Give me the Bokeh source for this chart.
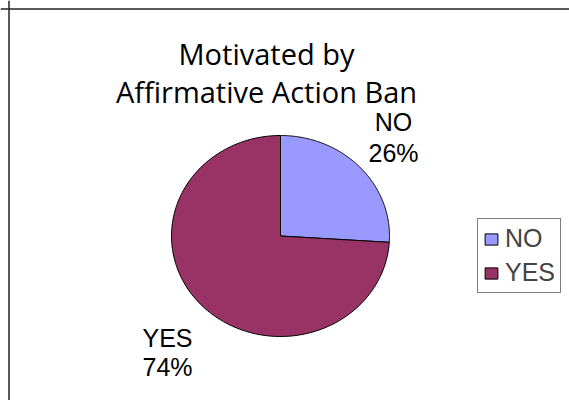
import numpy as np
from bokeh.plotting import figure
from bokeh.models import ColumnDataSource, Legend, LegendItem, Span, Range1d
from bokeh.core.properties import value
from bokeh.embed import file_html
from bokeh.resources import INLINE

# ---- data ----
categories = ["NO", "YES"]
percents = [26, 74]
colors = ["#9999FF", "#993366"]
title_lines = ["Motivated by", "Affirmative Action Ban"]

W, H = 569, 400
p = figure(width=W, height=H, output_backend="svg", toolbar_location=None,
           x_range=Range1d(0, W), y_range=Range1d(0, H), min_border=0)
p.axis.visible = False
p.grid.visible = False
p.outline_line_color = None
p.background_fill_color = "white"
p.border_fill_color = "white"

# frame lines (left & top edges of the chart box, rest clipped)
p.add_layout(Span(location=8.5, dimension="height", line_color="#222222", line_width=1.5))
p.add_layout(Span(location=H - 8.5, dimension="width", line_color="#222222", line_width=1.5))

# pie (slightly elliptical, as in the reference)
cx, cy, rx, ry = 280, 164.5, 109, 100.5
fr = np.array(percents, dtype=float) / sum(percents)
ends = np.cumsum(fr) * 2 * np.pi
starts = ends - fr * 2 * np.pi
xs, ys = [], []
for a0, a1 in zip(starts, ends):
    t = np.linspace(a0, a1, 200)
    xs.append([cx] + list(cx + rx * np.sin(t)) + [cx])
    ys.append([cy] + list(cy + ry * np.cos(t)) + [cy])
src = ColumnDataSource(dict(xs=xs, ys=ys, color=colors, cat=categories))
r = p.patches("xs", "ys", source=src, fill_color="color", line_color="black", line_width=1)

# title
p.text(x=[266, 266], y=[347.5, 309.5], text=title_lines,
       text_font=value("Open Sans"), text_font_size="29px", text_color="black",
       text_align="center", text_baseline="alphabetic")

# data labels
lab_x = [393, 167]
lab_y = [(278.3, 248), (63, 33.3)]
for c, pc, lx, (y1, y2) in zip(categories, percents, lab_x, lab_y):
    p.text(x=[lx, lx], y=[y1, y2], text=[c, f"{pc}%"],
           text_font=value("Liberation Sans"), text_font_size="25px", text_color="black",
           text_align="center", text_baseline="alphabetic")

# legend
items = [LegendItem(label=c, renderers=[r], index=i) for i, c in enumerate(categories)]
legend = Legend(items=items, location=(477, 107), orientation="vertical",
                padding=5, spacing=5, margin=0,
                glyph_width=16, glyph_height=14, label_height=26, label_standoff=6,
                label_text_font="Liberation Sans", label_text_font_size="25px",
                label_text_baseline="middle",
                border_line_color="black", border_line_width=1,
                background_fill_color="white", background_fill_alpha=1)
p.add_layout(legend)

open("out.html", "w").write(file_html(p, INLINE))
